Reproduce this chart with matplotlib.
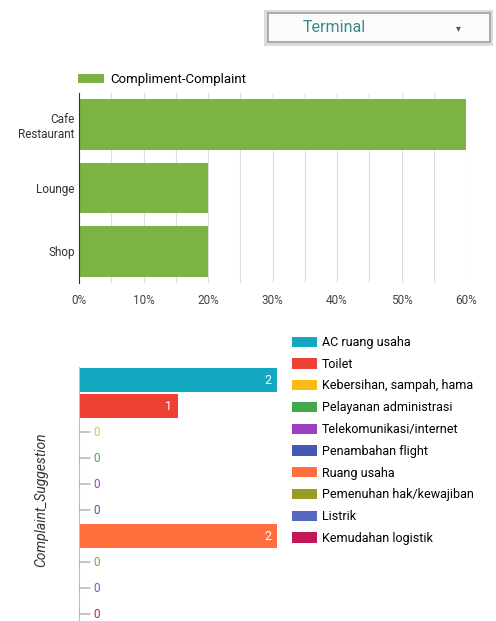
import matplotlib
matplotlib.use("Agg")
import matplotlib.pyplot as plt
from matplotlib.patches import Rectangle, Patch

plt.rcParams['font.family'] = ['Roboto', 'DejaVu Sans']

# top chart data (percent)
places = ['Cafe\nRestaurant', 'Lounge', 'Shop']
place_pct = [60, 20, 20]
top_series = 'Compliment-Complaint'
pct_ticks = [0, 10, 20, 30, 40, 50, 60]

# bottom chart data (counts)
topics = ['AC ruang usaha', 'Toilet', 'Kebersihan, sampah, hama',
          'Pelayanan administrasi', 'Telekomunikasi/internet',
          'Penambahan flight', 'Ruang usaha', 'Pemenuhan hak/kewajiban',
          'Listrik', 'Kemudahan logistik']
topic_counts = [2, 1, 0, 0, 0, 0, 2, 0, 0, 0]
topic_colors = ['#12a9c0', '#ee4035', '#fbbb12', '#43a84c', '#9a3fbd',
                '#4359b4', '#ff6e3d', '#9b9a26', '#5468c2', '#c0185a']

fig = plt.figure(figsize=(4.96, 6.21), dpi=100)
W, H = 496, 621

# dropdown box at the top
fig.patches.append(Rectangle((264 / W, 1 - 46 / H), 229 / W, 36 / H, transform=fig.transFigure,
                             facecolor='#dcdcdc', edgecolor='none'))
fig.patches.append(Rectangle((268 / W, 1 - 42 / H), 222 / W, 29 / H, transform=fig.transFigure,
                             facecolor='#fbfbfb', edgecolor='#a0a0a0', linewidth=1.2))
fig.text(303 / W, 1 - 28 / H, 'Terminal', color='#3a8a8c', fontsize=11.5, va='center')
fig.text(458 / W, 1 - 28 / H, '\u25be', color='#555555', fontsize=7, va='center', ha='center')

# top chart
ax1 = fig.add_axes([79 / W, 1 - 283 / H, 387 / W, 190 / H])
ax1.barh(range(len(places)), place_pct, height=0.8, color='#7cb342', label=top_series, zorder=2)
ax1.set_ylim(2.5, -0.5)
ax1.set_xlim(0, 60)
ax1.set_yticks(range(len(places)))
ax1.set_yticklabels(places, fontsize=8.5, color='#333333')
ax1.set_xticks(pct_ticks)
ax1.set_xticklabels(['%d%%' % t for t in pct_ticks], fontsize=8.5, color='#444444')
ax1.set_xticks(range(5, 60, 10), minor=True)
ax1.tick_params(axis='x', which='both', length=0, pad=8)
ax1.tick_params(axis='y', which='both', length=0, pad=3)
ax1.grid(axis='x', which='both', color='#dddddd', linewidth=0.8, zorder=0)
for s in ['top', 'right', 'bottom']:
    ax1.spines[s].set_visible(False)
ax1.spines['left'].set_color('#333333')
ax1.legend(loc='center left', bbox_to_anchor=(-0.003, 1.07), frameon=False, fontsize=9.5,
           handlelength=2.0, handleheight=0.75, handletextpad=0.45, borderaxespad=0, borderpad=0)

# bottom chart
ax2 = fig.add_axes([79 / W, 1 - 627 / H, 198 / W, 260 / H])
ypos = list(range(len(topics)))
ax2.barh(ypos, topic_counts, height=0.92, color=topic_colors)
ax2.set_ylim(len(topics) - 0.5, -0.5)
ax2.set_xlim(0, 2)
for y, v, c in zip(ypos, topic_counts, topic_colors):
    if v > 0:
        ax2.annotate(str(v), xy=(v, y), xytext=(-4, 0), textcoords='offset points',
                     color='white', fontsize=9, ha='right', va='center')
    else:
        ax2.annotate('0', xy=(0, y), xytext=(10, 0), textcoords='offset points',
                     color=c, fontsize=8.5, ha='left', va='center',
                     arrowprops=dict(arrowstyle='-', color='#9a9a9a', lw=0.8,
                                     shrinkA=0, shrinkB=0.5))
ax2.set_xticks([])
ax2.set_yticks([])
for s in ['top', 'right', 'bottom']:
    ax2.spines[s].set_visible(False)
ax2.spines['left'].set_color('#bbbbbb')
ax2.set_ylabel('Complaint_Suggestion', fontsize=10, style='italic', color='#333333')
ax2.yaxis.set_label_coords(-0.155, 0.49)

handles = [Patch(facecolor=c, edgecolor='none') for c in topic_colors]
fig.legend(handles, topics, loc='upper left', bbox_to_anchor=(292 / W, 1 - 336 / H),
           frameon=False, fontsize=9, handlelength=2.0, handleheight=0.9,
           handletextpad=0.4, labelspacing=0.7, borderpad=0, borderaxespad=0)

fig.savefig('out.png', dpi=100)
